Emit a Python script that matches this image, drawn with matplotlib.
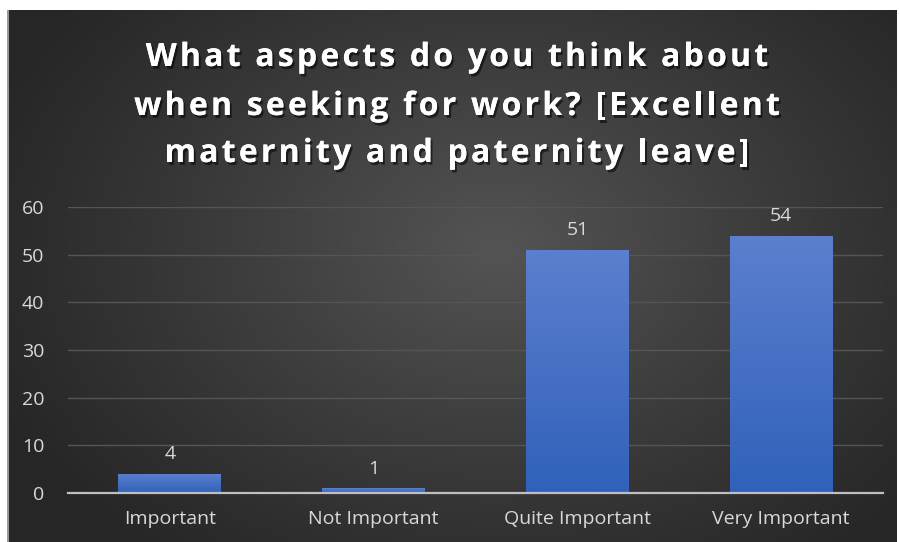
import numpy as np
import matplotlib
matplotlib.use("Agg")
import matplotlib.pyplot as plt
import matplotlib.patheffects as pe
from matplotlib.font_manager import FontProperties, findfont
from matplotlib.ft2font import FT2Font

categories = ["Important", "Not Important", "Quite Important", "Very Important"]
counts = [4, 1, 51, 54]
y_ticks = [0, 10, 20, 30, 40, 50, 60]
title_lines = ["What aspects do you think about",
               "when seeking for work? [Excellent",
               "maternity and paternity leave]"]

W, H = 899, 542
DPI = 100
fig = plt.figure(figsize=(W / DPI, H / DPI), dpi=DPI, facecolor="white")

# chart panel with a soft radial gradient
px0, px1, py0, py1 = 7, 897, 10, 542
bg = fig.add_axes([px0 / W, 1 - py1 / H, (px1 - px0) / W, (py1 - py0) / H])
gx, gy = np.meshgrid(np.linspace(0, 1, 400), np.linspace(0, 1, 300))
r = np.sqrt(((gx - 0.55) / 0.62) ** 2 + ((gy - 0.45) / 0.75) ** 2)
shade = np.clip(1 - r, 0, 1)
dark, light = np.array([0.15, 0.15, 0.15]), np.array([0.33, 0.33, 0.33])
img = dark + (light - dark) * shade[..., None] ** 1.1
bg.imshow(img, extent=[0, 1, 0, 1], aspect="auto", origin="upper")
bg.set_xlim(0, 1)
bg.set_ylim(0, 1)
bg.axis("off")
bg.plot([0.001, 0.001], [0, 1], color="#b0b0b0", lw=1.2)

# letter-spaced title, one glyph at a time on fixed baselines
t_size = 23
t_prop = FontProperties(family="Open Sans", weight="bold", size=t_size)
ft = FT2Font(findfont(t_prop))
ft.set_size(t_size, DPI)
tracking = 3.2
title_cx = 457
shadow = [pe.withSimplePatchShadow(offset=(1.5, -2), shadow_rgbFace="black", alpha=0.55), pe.Normal()]
for line, base in zip(title_lines, [66, 115, 162]):
    adv = [ft.load_char(ord(c)).linearHoriAdvance / 65536 for c in line]
    total = sum(adv) + tracking * (len(line) - 1)
    xpos = title_cx - total / 2
    for c, a in zip(line, adv):
        if c != " ":
            fig.text(xpos / W, 1 - base / H, c, ha="left", va="baseline", color="white",
                     fontproperties=t_prop, path_effects=shadow)
        xpos += a + tracking

ax = fig.add_axes([68 / W, 1 - 493 / H, 815 / W, 286 / H])
ax.patch.set_alpha(0)
x = np.arange(len(categories))
bars = ax.bar(x, counts, width=0.505, color="#4472c4", zorder=3)
ax.set_xlim(-0.5, len(categories) - 0.5)
ax.set_ylim(0, 60)

# vertical blue gradient inside each bar
grad = np.linspace(0, 1, 256)[:, None]
top_c, bot_c = np.array([0.36, 0.50, 0.81]), np.array([0.19, 0.38, 0.73])
gimg = top_c + (bot_c - top_c) * grad[..., None]
gimg = np.repeat(gimg, 2, axis=1)
for b, v in zip(bars, counts):
    bx, bw = b.get_x(), b.get_width()
    im = ax.imshow(gimg, extent=[bx, bx + bw, 0, v], aspect="auto", zorder=4, origin="upper")
    im.set_clip_path(b)
    ax.text(bx + bw / 2, v + 2.2, str(v), ha="center", va="bottom", color="#d9d9d9",
            fontsize=14, family="Open Sans", zorder=5)

ax.set_yticks(y_ticks)
ax.set_yticklabels([str(t) for t in y_ticks])
ax.set_xticks(x)
ax.set_xticklabels(categories)
ax.tick_params(axis="both", length=0, colors="#d9d9d9", labelsize=14)
ax.tick_params(axis="y", pad=17)
ax.tick_params(axis="x", pad=12)
for lab in ax.get_xticklabels() + ax.get_yticklabels():
    lab.set_family("Open Sans")
ax.grid(axis="y", color="#555555", lw=1, zorder=0)
for s in ["top", "right", "left"]:
    ax.spines[s].set_visible(False)
ax.spines["bottom"].set_color("#bfbfbf")
ax.spines["bottom"].set_linewidth(1.6)
ax.spines["bottom"].set_zorder(6)

fig.savefig("out.png", dpi=DPI, facecolor="white")
